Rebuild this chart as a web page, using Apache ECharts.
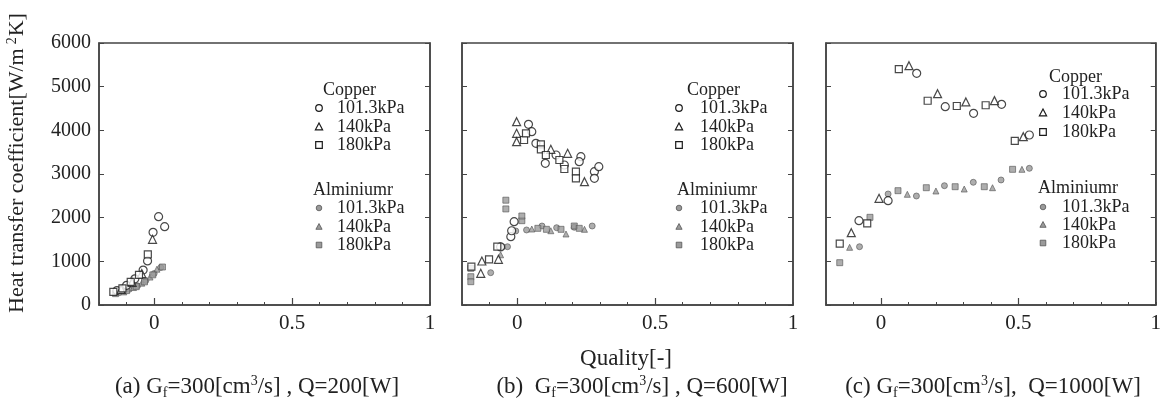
<!DOCTYPE html>
<html><head><meta charset="utf-8">
<script src="https://cdn.jsdelivr.net/npm/echarts@6.0.0/dist/echarts.min.js"></script>
<style>html,body{margin:0;padding:0;background:#fff}#c{width:1164px;height:405px}</style>
</head><body><div id="c"></div>
<script>
// ---------- data ----------
const yTickLabels = [0, 1000, 2000, 3000, 4000, 5000, 6000];
const xTickLabels = [0, 0.5, 1];
const legendTitles = ['Copper', 'Alminiumr'];
const legendLabels = ['101.3kPa', '140kPa', '180kPa'];
const yTitle = ['Heat transfer coefficient[W/m', '2', 'K]'];
const xTitle = 'Quality[-]';
const captions = [
  ['(a) G', 'f', '=300[cm', '3', '/s] , Q=200[W]'],
  ['(b)  G', 'f', '=300[cm', '3', '/s] , Q=600[W]'],
  ['(c) G', 'f', '=300[cm', '3', '/s],  Q=1000[W]']
];

// panel (a) Q=200W
const a_cu101 = [[-0.135,330],[-0.10,450],[-0.07,600],[-0.04,800],[-0.024,1010],[-0.004,1665],[0.016,2022],[0.038,1793]];
const a_cu140 = [[-0.12,360],[-0.08,520],[-0.045,720],[-0.006,1505]];
const a_cu180 = [[-0.148,300],[-0.115,380],[-0.085,530],[-0.055,690],[-0.023,1161]];
const a_al101 = [[-0.127,282],[-0.09,360],[-0.06,440],[-0.03,560],[0.0,720],[0.024,860]];
const a_al140 = [[-0.11,300],[-0.075,400],[-0.045,500],[-0.015,640],[0.01,820]];
const a_al180 = [[-0.14,260],[-0.10,330],[-0.065,420],[-0.035,530],[-0.005,690],[0.03,870]];

// panel (b) Q=600W
const b_cu101 = [[0.041,4138],[0.053,3969],[0.068,3703],[0.102,3245],[0.141,3435],[0.171,3206],[0.231,3397],[0.225,3282],[0.28,3053],[0.28,2901],[0.296,3168],[-0.06,1330],[-0.023,1564],[-0.02,1700],[-0.011,1908]];
const b_cu140 = [[-0.002,4198],[-0.002,3931],[-0.002,3740],[0.122,3565],[0.183,3474],[0.244,2824],[-0.128,1008],[-0.132,726],[-0.068,1046]];
const b_cu180 = [[0.025,3779],[0.032,3931],[0.086,3680],[0.086,3565],[0.104,3435],[0.153,3321],[0.171,3114],[0.213,3053],[0.213,2901],[-0.166,877],[-0.102,1046],[-0.072,1335]];
const b_al101 = [[-0.096,740],[-0.053,1335],[-0.035,1335],[-0.005,1695],[0.034,1718],[0.09,1809],[0.143,1770],[0.207,1780],[0.272,1809]];
const b_al140 = [[-0.06,1150],[0.053,1740],[0.122,1701],[0.177,1626],[0.244,1733]];
const b_al180 = [[-0.168,840],[-0.168,648],[-0.168,534],[-0.041,2400],[-0.041,2200],[0.017,1931],[0.017,2038],[0.075,1756],[0.106,1733],[0.159,1733],[0.207,1809],[0.225,1756]];

// panel (c) Q=1000W
const c_cu101 = [[0.13,5306],[0.234,4541],[0.337,4390],[0.439,4596],[0.54,3893],[-0.08,1931],[0.026,2389]];
const c_cu140 = [[0.102,5480],[0.206,4840],[0.309,4650],[0.413,4680],[0.518,3854],[-0.108,1656],[-0.007,2443]];
const c_cu180 = [[0.065,5404],[0.17,4678],[0.276,4557],[0.381,4575],[0.487,3760],[-0.05,1871],[-0.15,1405]];
const c_al101 = [[-0.078,1335],[0.026,2542],[0.129,2496],[0.231,2732],[0.336,2810],[0.437,2863],[0.54,3130]];
const c_al140 = [[-0.114,1321],[0.096,2535],[0.2,2611],[0.303,2656],[0.406,2686],[0.513,3107]];
const c_al180 = [[-0.15,969],[-0.04,2008],[0.062,2618],[0.165,2686],[0.27,2709],[0.376,2709],[0.479,3107]];

// ---------- layout / style ----------
const FONT = '"Liberation Serif", "DejaVu Serif", serif';
const INK = '#222';
const AX = '#444';
const panels = [
  { left: 99,  data: [a_cu101, a_cu140, a_cu180, a_al101, a_al140, a_al180],
    leg: { cuT: [323, 90], sym: 319, lab: 337, cuRows: [108,127,145], alT: [313,190], alRows: [208,227,245] } },
  { left: 462, data: [b_cu101, b_cu140, b_cu180, b_al101, b_al140, b_al180],
    leg: { cuT: [687, 90], sym: 679, lab: 700, cuRows: [108,127,145], alT: [677,190], alRows: [208,227,245] } },
  { left: 826, data: [c_cu101, c_cu140, c_cu180, c_al101, c_al140, c_al180],
    leg: { cuT: [1049, 77], sym: 1043, lab: 1062, cuRows: [94,113,132], alT: [1038,188], alRows: [207,225,243] } }
];
const GTOP = 43, GW = 331, GH = 262;
const symbols = ['circle', 'triangle', 'rect'];
const cuStyle = { color: '#fff', borderColor: '#1a1a1a', borderWidth: 1.2 };
const alStyle = { color: '#9a9a9a', borderColor: '#555', borderWidth: 0.8 };
const cuSize = [8, 8, 7];
const alSize = [6, 6, 6];

const grid = [], xAxis = [], yAxis = [], series = [], graphic = [];
panels.forEach((p, i) => {
  grid.push({ left: p.left, top: GTOP, width: GW, height: GH, show: true,
    borderColor: AX, borderWidth: 1.5, backgroundColor: 'transparent' });
  xAxis.push({ gridIndex: i, type: 'value', min: -0.2, max: 1, interval: 0.1, position: 'bottom',
    axisLine: { show: true, onZero: false, lineStyle: { color: AX, width: 1.5 } },
    axisTick: { show: true, inside: true, length: 3, lineStyle: { color: AX } },
    axisLabel: { customValues: xTickLabels, formatter: v => String(v),
      fontFamily: FONT, fontSize: 21, color: INK, margin: 8 },
    splitLine: { show: false } });
  xAxis.push({ gridIndex: i, type: 'value', min: -0.2, max: 1, position: 'bottom',
    axisLine: { show: false },
    axisTick: { show: true, inside: true, length: 7, customValues: [0, 0.5], lineStyle: { color: AX, width: 1.2 } },
    axisLabel: { show: false }, splitLine: { show: false } });
  yAxis.push({ gridIndex: i, type: 'value', min: 0, max: 6000, interval: 1000, position: 'left',
    axisLine: { show: true, onZero: false, lineStyle: { color: AX, width: 1.5 } },
    axisTick: { show: true, inside: true, length: 5, lineStyle: { color: AX } },
    axisLabel: { show: i === 0, fontFamily: FONT, fontSize: 20, color: INK, margin: 8,
      customValues: yTickLabels, formatter: v => String(v) },
    splitLine: { show: false } });
  yAxis.push({ gridIndex: i, type: 'value', min: 0, max: 6000, interval: 1000, position: 'right',
    axisLine: { show: true, onZero: false, lineStyle: { color: AX, width: 1.5 } },
    axisTick: { show: true, inside: true, length: 5, lineStyle: { color: AX } },
    axisLabel: { show: false }, splitLine: { show: false } });

  p.data.forEach((d, k) => {
    const cu = k < 3, s = k % 3;
    series.push({ type: 'scatter', xAxisIndex: 2 * i, yAxisIndex: 2 * i, data: d,
      symbol: symbols[s], symbolSize: cu ? cuSize[s] : alSize[s],
      itemStyle: cu ? cuStyle : alStyle, z: cu ? 3 : 2, silent: true });
  });

  // legend (drawn as graphics)
  const L = p.leg;
  const mk = (kind, s, x, y) => {
    const st = kind === 'cu'
      ? { fill: '#fff', stroke: '#1a1a1a', lineWidth: 1.2 }
      : { fill: '#9a9a9a', stroke: '#555', lineWidth: 0.8 };
    const r = kind === 'cu' ? 3.3 : 2.8;
    if (s === 0) return { type: 'circle', shape: { cx: x, cy: y, r: r }, style: st };
    if (s === 1) return { type: 'polygon', shape: { points: [[x, y - r - 0.7], [x - r - 0.3, y + r - 0.5], [x + r + 0.3, y + r - 0.5]] }, style: st };
    return { type: 'rect', shape: { x: x - r, y: y - r, width: 2 * r, height: 2 * r }, style: st };
  };
  const txt = (t, x, y) => ({ type: 'text', x: x, y: y,
    style: { text: t, fontFamily: FONT, fontSize: 18, fill: INK, align: 'left', verticalAlign: 'middle' } });
  graphic.push(txt(legendTitles[0], L.cuT[0], L.cuT[1]));
  graphic.push(txt(legendTitles[1], L.alT[0], L.alT[1]));
  legendLabels.forEach((lab, s) => {
    graphic.push(mk('cu', s, L.sym, L.cuRows[s]));
    graphic.push(txt(lab, L.lab, L.cuRows[s]));
    graphic.push(mk('al', s, L.sym, L.alRows[s]));
    graphic.push(txt(lab, L.lab, L.alRows[s]));
  });
});

// y-axis title (rotated, with superscript)
graphic.push({ type: 'text', x: 17, y: 163, rotation: Math.PI / 2,
  style: { text: '{a|' + yTitle[0] + '}{s|' + yTitle[1] + '}{a|' + yTitle[2] + '}',
    align: 'center', verticalAlign: 'middle',
    rich: { a: { fontFamily: FONT, fontSize: 22, fill: INK, lineHeight: 24 },
            s: { fontFamily: FONT, fontSize: 14, fill: INK, lineHeight: 24, verticalAlign: 'top', padding: [0, 1, 0, 4] } } } });

// x title
graphic.push({ type: 'text', x: 626, y: 359,
  style: { text: xTitle, fontFamily: FONT, fontSize: 23, fill: INK, align: 'center', verticalAlign: 'middle' } });

// captions
const capX = [257, 642, 993];
captions.forEach((c, i) => {
  graphic.push({ type: 'text', x: capX[i], y: 387,
    style: { text: '{t|' + c[0] + '}{b|' + c[1] + '}{t|' + c[2] + '}{p|' + c[3] + '}{t|' + c[4] + '}',
      align: 'center', verticalAlign: 'middle',
      rich: { t: { fontFamily: FONT, fontSize: 23, fill: INK, lineHeight: 26 },
              b: { fontFamily: FONT, fontSize: 14, fill: INK, lineHeight: 26, verticalAlign: 'bottom' },
              p: { fontFamily: FONT, fontSize: 14, fill: INK, lineHeight: 26, verticalAlign: 'top' } } } });
});

const chart = echarts.init(document.getElementById('c'), null, { renderer: 'canvas' });
chart.setOption({ backgroundColor: '#fff', animation: false, grid, xAxis, yAxis, series, graphic });
</script>
</body></html>
